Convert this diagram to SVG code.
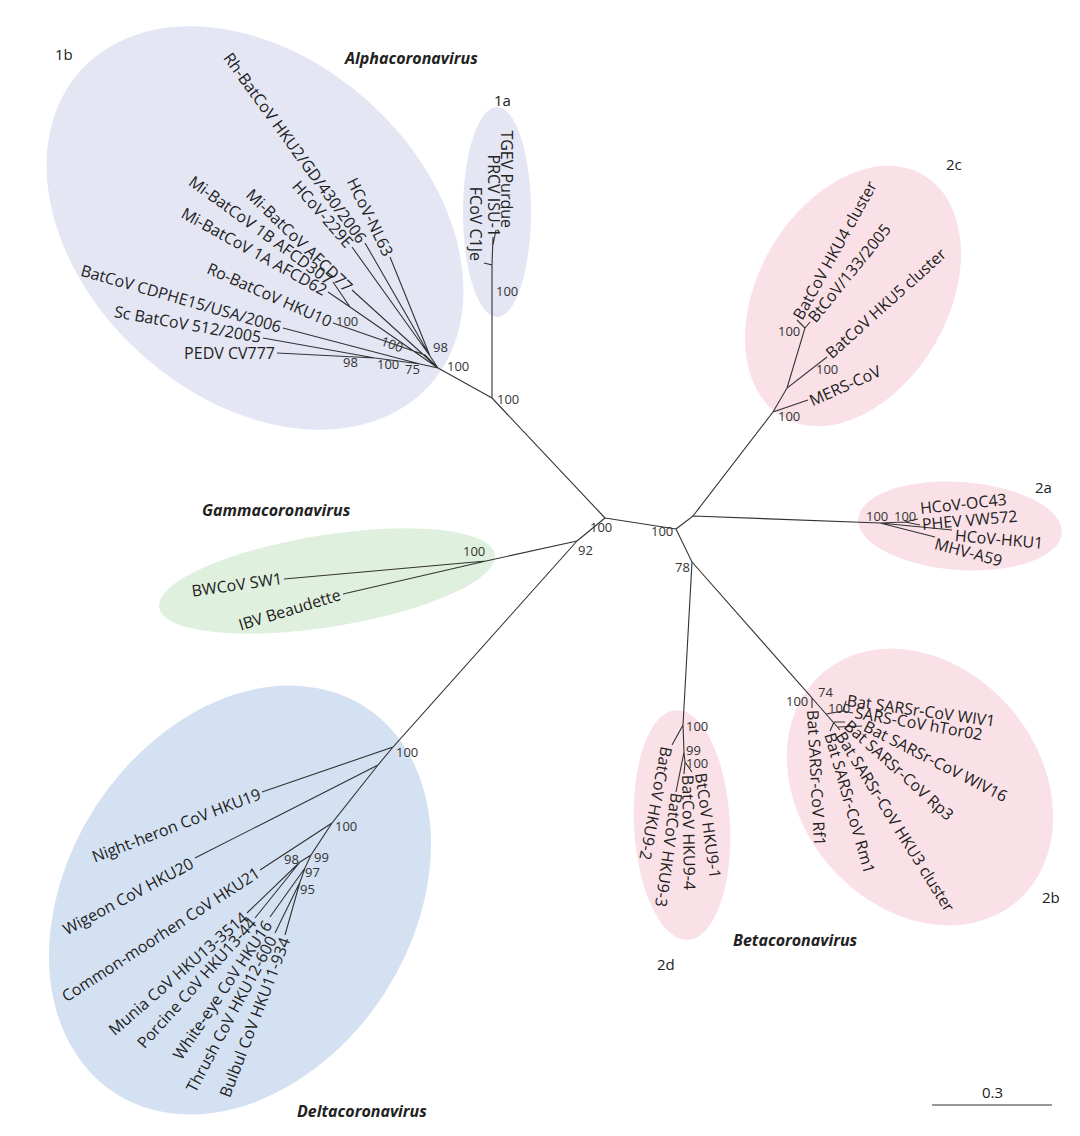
<svg xmlns="http://www.w3.org/2000/svg" width="1080" height="1136" viewBox="0 0 1080 1136">
<style>
text{font-family:"Open Sans","DejaVu Sans",sans-serif;fill:#222}
.l{font-size:16px;dominant-baseline:central}
.e{text-anchor:end}
.b{font-size:13px;fill:#333}
.t{font-size:16px;font-weight:bold;font-style:italic}
.c{font-size:15px}
.br{fill:none;stroke:#333;stroke-width:1.1}
</style>
<rect width="1080" height="1136" fill="#fff"/>
<g id="clades">
<ellipse cx="255" cy="228" rx="235" ry="170" transform="rotate(42 255 228)" fill="#e4e6f4"/>
<ellipse cx="497" cy="212" rx="34" ry="105" fill="#e4e6f4"/>
<ellipse cx="327" cy="581" rx="170" ry="46" transform="rotate(-9 327 581)" fill="#dff0df"/>
<ellipse cx="240" cy="900" rx="230" ry="172" transform="rotate(-57 240 900)" fill="#d4e1f2"/>
<ellipse cx="853" cy="296" rx="140" ry="95" transform="rotate(-60 853 296)" fill="#fae1e7"/>
<ellipse cx="960" cy="526" rx="102" ry="44" transform="rotate(4 960 526)" fill="#fae1e7"/>
<ellipse cx="682" cy="825" rx="48" ry="115" transform="rotate(-3 682 825)" fill="#fae1e7"/>
<ellipse cx="920" cy="787" rx="150" ry="120" transform="rotate(50 920 787)" fill="#fae1e7"/>
</g>
<g id="connectors" class="br">
<path d="M605 518L577 541M605 518L676 529M605 518L492 398"/>
<path d="M492 398L492 265L484 263M492 265L493 237M493 245L496 230M492 398L438 368"/>
<path d="M438 368L420 364L398 361L375 358L277 353M375 358L263 338M420 364L283 328M438 368L425 355L333 323M438 368L350 307L328 292M350 307L333 282M438 368L352 290M438 368L430 356L352 247M430 356L365 243M430 356L390 257"/>
<path d="M577 541L486 561L284 579M486 561L343 594"/>
<path d="M577 541L393 747L262 792M393 747L378 765L195 858M378 765L332 823L260 870M332 823L311 855L300 862L247 913M300 862L255 918M311 855L305 868L270 917M305 868L300 882L275 933M300 882L285 935"/>
<path d="M676 529L693 516L880 523L905 522L918 519M905 522L920 525M880 523L952 530M880 523L935 537"/>
<path d="M693 516L773 412L808 400M773 412L787 388L827 357M787 388L805 328L797 320M805 328L810 322"/>
<path d="M676 529L692 562L683 725L672 745M683 725L684 752L685 762L692 772M685 762L684 774M684 752L676 792"/>
<path d="M692 562L812 698L812 708M812 698L840 730M826 714L843 711L846 701M843 711L853 713M834 722L830 731M838 727L862 726M834 722L845 722"/>
<path d="M932 1105H1052"/>
</g>
<g id="titles">
<text class="t" x="345" y="64">Alphacoronavirus</text>
<text class="t" x="202" y="516">Gammacoronavirus</text>
<text class="t" x="733" y="946">Betacoronavirus</text>
<text class="t" x="297" y="1117">Deltacoronavirus</text>
<text class="c" x="55" y="60">1b</text>
<text class="c" x="494" y="106">1a</text>
<text class="c" x="946" y="170">2c</text>
<text class="c" x="1035" y="493">2a</text>
<text class="c" x="1042" y="903">2b</text>
<text class="c" x="657" y="970">2d</text>
<text class="c" x="982" y="1098">0.3</text>
</g>
<g id="alpha">
<text class="l e" transform="translate(275 353)">PEDV CV777</text>
<text class="l e" transform="translate(261 337) rotate(10)">Sc BatCoV 512/2005</text>
<text class="l e" transform="translate(281 327) rotate(16)">BatCoV CDPHE15/USA/2006</text>
<text class="l e" transform="translate(331 322) rotate(24)">Ro-BatCoV HKU10</text>
<text class="l e" transform="translate(326 291) rotate(29)">Mi-BatCoV 1A AFCD62</text>
<text class="l e" transform="translate(331 281) rotate(36)">Mi-BatCoV 1B AFCD307</text>
<text class="l e" transform="translate(350 289) rotate(44)">Mi-BatCoV AFCD77</text>
<text class="l e" transform="translate(350 245) rotate(49)">HCoV-229E</text>
<text class="l e" transform="translate(363 241) rotate(54)">Rh-BatCoV HKU2/GD/430/2006</text>
<text class="l e" transform="translate(389 255) rotate(64)">HCoV-NL63</text>
<text class="l e" transform="translate(507 228) rotate(90)">TGEV Purdue</text>
<text class="l e" transform="translate(494 237) rotate(90)">PRCV ISU-1</text>
<text class="l e" transform="translate(476 261) rotate(90)">FCoV C1Je</text>
<text class="b" x="336" y="326">100</text>
<text class="b" transform="translate(380 345) rotate(20)">100</text>
<text class="b" x="433" y="352">98</text>
<text class="b" x="447" y="371">100</text>
<text class="b" x="343" y="367">98</text>
<text class="b" x="377" y="369">100</text>
<text class="b" x="405" y="374">75</text>
<text class="b" x="496" y="296">100</text>
<text class="b" x="497" y="404">100</text>
<text class="b" x="590" y="532">100</text>
</g>
<g id="gamma">
<text class="l e" transform="translate(282 578) rotate(-8)">BWCoV SW1</text>
<text class="l e" transform="translate(340 594) rotate(-17)">IBV Beaudette</text>
<text class="b" x="463" y="556">100</text>
<text class="b" x="578" y="555">92</text>
</g>
<g id="delta">
<text class="l e" transform="translate(260 793) rotate(-21)">Night-heron CoV HKU19</text>
<text class="l e" transform="translate(192 862) rotate(-28)">Wigeon CoV HKU20</text>
<text class="l e" transform="translate(258 871) rotate(-33)">Common-moorhen CoV HKU21</text>
<text class="l e" transform="translate(245 915) rotate(-41)">Munia CoV HKU13-3514</text>
<text class="l e" transform="translate(253 920) rotate(-48)">Porcine CoV HKU13-44</text>
<text class="l e" transform="translate(268 922) rotate(-56)">White-eye CoV HKU16</text>
<text class="l e" transform="translate(272 937) rotate(-62)">Thrush CoV HKU12-600</text>
<text class="l e" transform="translate(285 938) rotate(-69)">Bulbul CoV HKU11-934</text>
<text class="b" x="396" y="757">100</text>
<text class="b" x="335" y="831">100</text>
<text class="b" x="284" y="864">98</text>
<text class="b" x="314" y="862">99</text>
<text class="b" x="305" y="877">97</text>
<text class="b" x="300" y="894">95</text>
</g>
<g id="beta">
<text class="l" transform="translate(810 401) rotate(-24)">MERS-CoV</text>
<text class="l" transform="translate(828 355) rotate(-42)">BatCoV HKU5 cluster</text>
<text class="l" transform="translate(797 318) rotate(-61)">BatCoV HKU4 cluster</text>
<text class="l" transform="translate(811 320) rotate(-51)">BtCoV/133/2005</text>
<text class="b" x="778" y="421">100</text>
<text class="b" x="816" y="374">100</text>
<text class="b" x="778" y="336">100</text>
<text class="l" transform="translate(920 508) rotate(-6)">HCoV-OC43</text>
<text class="l" transform="translate(922 524) rotate(-5)">PHEV VW572</text>
<text class="l" transform="translate(955 535) rotate(5)">HCoV-HKU1</text>
<text class="l" transform="translate(935 543) rotate(15)">MHV-A59</text>
<text class="b" x="866" y="521">100</text>
<text class="b" x="894" y="521">100</text>
<text class="b" x="651" y="536">100</text>
<text class="b" x="675" y="572">78</text>
<text class="l" transform="translate(701 773) rotate(82)">BtCoV HKU9-1</text>
<text class="l" transform="translate(688 775) rotate(89)">BatCoV HKU9-4</text>
<text class="l" transform="translate(677 793) rotate(98)">BatCoV HKU9-3</text>
<text class="l" transform="translate(667 747) rotate(101)">BatCoV HKU9-2</text>
<text class="b" x="686" y="731">100</text>
<text class="b" x="686" y="755">99</text>
<text class="b" x="686" y="768">100</text>
<text class="l" transform="translate(847 700) rotate(8)">Bat SARSr-CoV WIV1</text>
<text class="l" transform="translate(855 712) rotate(10)">SARS-CoV hTor02</text>
<text class="l" transform="translate(865 725) rotate(27)">Bat SARSr-CoV WIV16</text>
<text class="l" transform="translate(847 723) rotate(42)">Bat SARSr-CoV Rp3</text>
<text class="l" transform="translate(840 733) rotate(58)">Bat SARSr-CoV HKU3 cluster</text>
<text class="l" transform="translate(830 733) rotate(74)">Bat SARSr-CoV Rm1</text>
<text class="l" transform="translate(813 710) rotate(87)">Bat SARSr-CoV Rf1</text>
<text class="b" x="786" y="706">100</text>
<text class="b" x="818" y="697">74</text>
<text class="b" x="828" y="713">100</text>
</g>
</svg>
